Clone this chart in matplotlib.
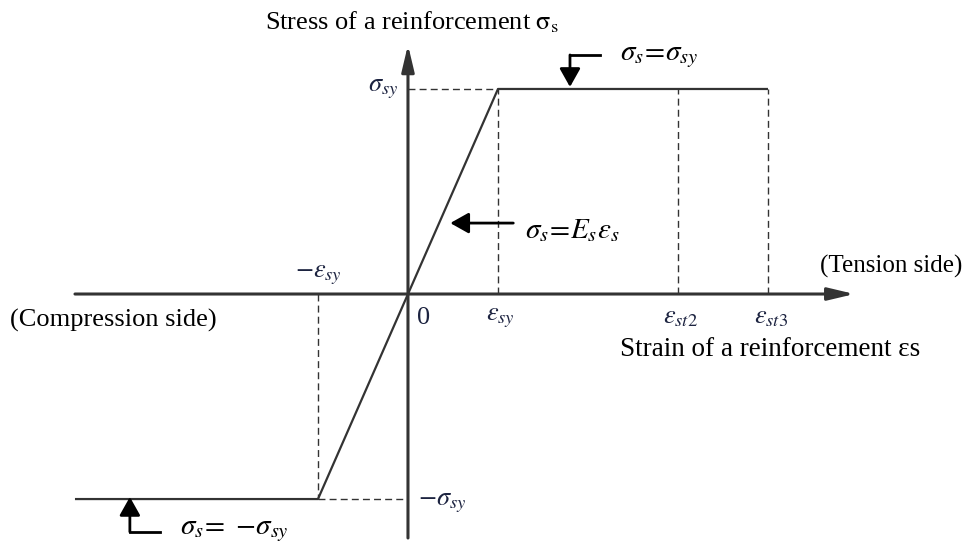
import matplotlib
matplotlib.use("Agg")
import matplotlib.pyplot as plt

plt.rcParams['font.family'] = ['Liberation Serif', 'DejaVu Serif']
plt.rcParams['mathtext.fontset'] = 'stix'

# Bilinear reinforcement model (strain in units of eps_sy, stress in units of sigma_sy)
eps_path = [-3.7, -1.0, 1.0, 4.0]
sig_path = [-1.0, -1.0, 1.0, 1.0]
eps_sy = 1.0
sig_sy = 1.0
eps_marks = [1.0, 3.0, 4.0]
eps_labels = [r'$\varepsilon_{sy}$', r'$\varepsilon_{st2}$', r'$\varepsilon_{st3}$']

line_c = '#333333'
lab_c = '#1c2340'

fig = plt.figure(figsize=(9.65, 5.46), dpi=100)
ax = fig.add_axes([0, 0, 1, 1])
ax.set_xlim(-4.533, 6.189)
ax.set_ylim(-1.229, 1.434)
ax.axis('off')

# axes with arrow heads
axis_arrow = dict(arrowstyle='-|>,head_length=1.6,head_width=0.38', lw=2.2,
                  color=line_c, mutation_scale=10, shrinkA=0, shrinkB=0)
ax.annotate('', xy=(4.96, 0), xytext=(-3.7, 0), arrowprops=axis_arrow)
ax.annotate('', xy=(0, 1.215), xytext=(0, -1.19), arrowprops=axis_arrow)

# stress-strain curve
ax.plot(eps_path, sig_path, color=line_c, lw=1.6, solid_capstyle='butt', zorder=3)

# dashed guide lines
dash = dict(color=line_c, lw=1.0, ls=(0, (5, 3)))
ax.plot([0, eps_sy], [sig_sy, sig_sy], **dash)
for e in eps_marks:
    ax.plot([e, e], [0, sig_sy], **dash)
ax.plot([-eps_sy, -eps_sy], [0, -sig_sy], **dash)
ax.plot([-eps_sy, 0], [-sig_sy, -sig_sy], **dash)

# tick labels on the axes
fs_lab = 19
for e, lab in zip(eps_marks, eps_labels):
    ax.text(e + 0.03, -0.117, lab, ha='center', va='center', fontsize=fs_lab, color=lab_c)
ax.text(0.17, -0.117, '0', ha='center', va='center', fontsize=fs_lab, color=lab_c)
ax.text(-eps_sy, 0.093, r'$-\varepsilon_{sy}$', ha='center', va='center',
        fontsize=fs_lab, color=lab_c)
ax.text(-0.11, sig_sy, r'$\sigma_{sy}$', ha='right', va='center', fontsize=fs_lab, color=lab_c)
ax.text(0.11, -sig_sy - 0.02, r'$-\sigma_{sy}$', ha='left', va='center',
        fontsize=fs_lab, color=lab_c)

# axis titles
fs_txt = 19
ax.text(-1.59, 1.327, r'Stress of a reinforcement $\mathrm{\sigma_s}$', ha='left',
        va='center', fontsize=fs_txt)
ax.text(5.69, -0.273, 'Strain of a reinforcement εs', ha='right', va='center',
        fontsize=fs_txt + 0.5)
ax.text(6.16, 0.132, '(Tension side)', ha='right', va='center', fontsize=18)
ax.text(-4.42, -0.127, '(Compression side)', ha='left', va='center', fontsize=fs_txt)

# pointer arrows with equations
ptr = dict(arrowstyle='-|>,head_length=0.8,head_width=0.45', lw=2.0,
           color='black', mutation_scale=14, shrinkA=0, shrinkB=0)
fs_eq = 21
# yield plateau
ax.plot([1.8, 2.13], [1.166, 1.166], color='black', lw=2.0)
ax.annotate('', xy=(1.8, sig_sy + 0.01), xytext=(1.8, 1.166), arrowprops=ptr)
ax.text(2.36, 1.156, r'$\sigma_s\!=\!\sigma_{sy}$', ha='left', va='center', fontsize=fs_eq)
# elastic branch
ax.annotate('', xy=(0.47, 0.346), xytext=(1.17, 0.346), arrowprops=ptr)
ax.text(1.3, 0.31, r'$\sigma_s\!=\!E_s\varepsilon_s$', ha='left', va='center', fontsize=fs_eq)
# compression plateau
ax.plot([-3.09, -2.76], [-1.16, -1.16], color='black', lw=2.0)
ax.annotate('', xy=(-3.09, -sig_sy + 0.01), xytext=(-3.09, -1.16), arrowprops=ptr)
ax.text(-2.53, -1.155, r'$\sigma_s\!=\ \mathrm{-}\sigma_{sy}$', ha='left', va='center',
        fontsize=fs_eq)

fig.savefig('out.png', dpi=100)
